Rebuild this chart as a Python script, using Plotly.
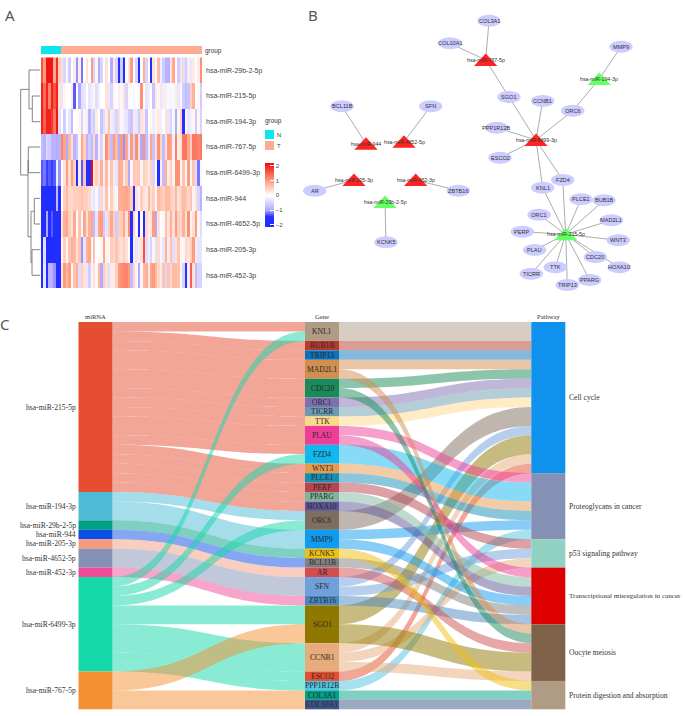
import plotly.graph_objects as go

W, H = 685, 716

# ---------- Panel A: heatmap ----------
rows = ["hsa-miR-29b-2-5p", "hsa-miR-215-5p", "hsa-miR-194-3p", "hsa-miR-767-5p", "hsa-miR-6499-3p",
        "hsa-miR-944", "hsa-miR-4652-5p", "hsa-miR-205-3p", "hsa-miR-452-3p"]
r_29b = [1.6,1.0,2.1,2.1,2.1,0.9,1.9,0.5,
         .3,-.5,.1,-.6,0,.2,-1.1,.2,-1.2,0,.3,0,1,-.5,.1,-1,-.5,0,.3,0,-1,.2,-.5,-1.5,
         -.6,-1.6,0,.3,1,0,-.5,-1.5,0,.8,-.5,0,-1.8,.3,0,.7,-.2,-.6,-.9,-.9,.3,.9,0,-.6,.3,-.4,-.6,.2,-.3,.2,0,.2,1.1]
r_215 = [2.0,1.4,2.0,1.2,2.0,1.6,2.0,0.3,
         -.3,.1,0,0,.2,-1.3,0,-1,-.4,-.3,0,-.3,-.2,.1,-.4,-.2,0,0,.3,-.3,-.5,.1,0,-.2,
         .1,.3,-.5,.1,0,-.1,0,-.1,1.1,0,-.3,-.2,0,-.7,.2,.1,-.3,.2,-.2,-.1,-.1,-.1,.2,-.3,-.1,-.6,-.8,-.7,.5,.8,0,.1,-.6]
r_194 = [2.0,1.5,2.0,2.0,1.8,1.3,2.1,-0.4,
         0,-.6,0,-.3,-.8,0,0,.1,-.5,.1,-.2,-.9,-.4,-.6,.2,0,-.7,-.4,.2,.6,-.2,-.3,-.5,.3,
         -.1,-.2,-.3,-.6,-.7,.2,-.3,-.6,.3,.2,-.7,0,.1,-.2,.1,.2,-.2,0,.3,-.3,-.5,-.1,-1,.1,.5,-1.5,.1,-.3,-.2,.1,-.6,.1,-.5]
r_767 = [-.8,-.9,-.5,-.6,-.9,-.9,-1.0,-.9,
         1.2,.9,-1,.7,.3,-.9,-.7,.1,.9,.5,-.9,-.6,-.8,.4,-.9,.2,-.5,.1,1.1,.6,-.8,1,.7,-1,
         1,-1.1,.9,-.3,1,-.5,1.1,.3,-1,1.1,-.8,-.2,.9,-.7,.3,1.1,.4,-.8,.3,1,.9,-.2,1.2,.2,.3,1.3,1.3,.9,.5,1.3,1.3,1.2,1.3]
r_6499 = [-1.3,-1.2,-1.4,-1.3,-1.4,-1.3,-0.2,-1.1,
          0,.3,1,.3,1,.5,-1.5,.2,-1.3,.6,-1.7,-1.9,2.2,.2,.5,.3,.8,-.2,.7,.1,.6,.2,-.3,.8,
          .8,.2,.5,-1,.1,.6,.5,.6,.1,.5,.4,.2,.5,-.5,.1,-1.9,.2,-.8,.8,.2,.5,.1,1.1,1.1,.1,.6,.1,1,.1,.6,-.4,-1.2,-.1]
r_944 = [-2,-1.9,-2.1,-2.1,-2.1,-2.1,-.8,-1.9,
         0,.5,.7,.4,.4,.5,.5,.5,.6,.5,.5,.4,-.2,-.3,-.1,-.4,.4,-.2,.6,.1,.5,.2,-.1,.8,
         .8,.9,.9,.8,.5,-2,.3,.1,.5,.3,.2,.7,.3,.5,.1,.7,.6,.5,.7,.7,.5,.4,.7,.3,.5,.7,.6,.4,.6,.1,.3,-.5,-.9]
r_4652 = [-2,-1.9,-1,-2,-1.3,-2,-2,-2,
          .3,.8,.9,.5,.3,.9,0,.6,.1,.9,.3,.8,.9,-.8,-.3,.9,1,-.6,-.3,.5,.9,.5,-.6,.5,
          .5,.9,.3,1.1,-1.5,.4,.1,-1.9,.1,-1.9,.4,.2,.3,1,-1,.3,0,.1,.6,.3,.8,.3,1,.5,.4,.8,.3,1.1,.1,.3,1,.1,-.4]
r_205 = [-2,-.4,-2.1,-2.1,-2.1,-2.1,-1.9,-2,
         .1,.5,.1,.6,.8,.7,.3,.6,-1.1,-.3,.8,.9,.1,.6,0,0,.1,.9,.1,.1,.5,.4,.6,.4,
         .3,.5,.3,0,-2.2,.2,-.3,.2,.3,1.6,-.4,-.2,-.5,.1,-.4,.4,.1,-.3,.8,.2,.6,-.4,.3,.6,.1,.1,.4,.3,.5,1,-.2,-.3,-.3]
r_452 = [-1.9,-.3,-1.7,-.9,-.9,-1.1,-2,-1.6,
         .3,1,.7,1,.1,.6,.8,-.4,.5,.3,-.3,-.6,.1,.3,.1,.7,-1,.5,.3,-.4,.2,.2,.5,1,
         1.1,1.2,1.2,1,-.8,.4,.1,-1,.1,.7,.8,.2,.9,1,.7,.4,.2,.6,-.5,.6,.4,.7,.7,.6,.1,-.5,-1.5,-.2,1.5,.3,-.8,-.5,-.5]
group_n, group_t = 8, 57
group_values = [0] * group_n + [1] * group_t
group_names = ["N", "T"]
group_colors = ["#0CE6F0", "#FFAB94"]
heat_ticks = [-2, -1, 0, 1, 2]

# dendrogram branches, each a polyline (left-to-right tree drawn in page pixels)
dendro_branches = [
    ([40.3, 32.3, 32.3, 40.3], [121.7, 121.7, 96, 96]),      # 194 / 215
    ([40.3, 29, 29, 32.3], [70, 70, 108.8, 108.8]),          # 29b / (215,194)
    ([40.3, 28.3, 28.3, 40.3], [147, 147, 172.7, 172.7]),    # 767 / 6499
    ([40.3, 34.3, 34.3, 40.3], [198.3, 198.3, 224, 224]),    # 944 / 4652
    ([40.3, 32, 32, 40.3], [249.7, 249.7, 275.3, 275.3]),    # 205 / 452
    ([34.3, 31, 31, 32], [211.2, 211.2, 262.5, 262.5]),      # two lower pairs
    ([31, 28, 28, 28.3], [236.8, 236.8, 160, 160]),          # lower + 767/6499
    ([29, 20.7, 20.7, 28], [89.4, 89.4, 175, 175]),          # root
]

# ---------- Panel B: network ----------
mirna_nodes = {
    "hsa-miR-767-5p": (485.7, 60.0, "up"), "hsa-miR-194-3p": (599.3, 79.0, "down"),
    "hsa-miR-6499-3p": (536.0, 140.0, "up"), "hsa-miR-215-5p": (565.7, 234.3, "down"),
    "hsa-miR-944": (366.0, 143.7, "up"), "hsa-miR-4652-5p": (404.0, 141.7, "up"),
    "hsa-miR-205-3p": (354.0, 180.0, "up"), "hsa-miR-452-3p": (415.7, 180.0, "up"),
    "hsa-miR-29b-2-5p": (385.0, 202.0, "down"),
}
gene_nodes = {
    "COL3A1": (489.0, 20.7), "COL10A1": (450.0, 43.3), "MMP9": (621.0, 46.7), "SGO1": (509.0, 97.0),
    "CCNB1": (542.7, 101.0), "ORC6": (572.7, 110.7), "PPP1R12B": (496.7, 127.7), "ESCO2": (500.0, 157.7),
    "FZD4": (562.7, 180.0), "KNL1": (542.7, 187.7), "PLCE1": (581.0, 199.3), "BUB1B": (604.0, 200.3),
    "ORC1": (539.0, 214.7), "MAD2L1": (611.3, 220.3), "PERP": (522.3, 231.7), "WNT3": (618.3, 240.3),
    "PLAU": (534.7, 250.0), "CDC20": (595.3, 257.0), "HOXA10": (619.3, 267.3), "TTK": (555.3, 267.3),
    "TICRR": (531.3, 273.7), "PPARG": (589.7, 280.0), "TRIP13": (567.3, 285.0), "BCL11B": (342.0, 106.3),
    "SFN": (430.7, 106.3), "AR": (314.7, 190.7), "ZBTB16": (458.3, 190.7), "KCNK5": (386.0, 242.3),
}
mirna_up_color, mirna_down_color, gene_color = "#FF2424", "#66FF66", "#CCCCFF"

# ---------- Panel C: sankey ----------
mirnas = ["hsa-miR-215-5p", "hsa-miR-194-3p", "hsa-miR-29b-2-5p", "hsa-miR-944", "hsa-miR-205-3p",
          "hsa-miR-4652-5p", "hsa-miR-452-3p", "hsa-miR-6499-3p", "hsa-miR-767-5p"]
mirna_colors = ["#E64E31", "#4DBBD5", "#00A087", "#0E4EE8", "#F39B7F", "#8491B4", "#EF4B98", "#14D8A8", "#F58F33"]
genes = ["KNL1", "BUB1B", "TRIP13", "MAD2L1", "CDC20", "ORC1", "TICRR", "TTK", "PLAU", "FZD4", "WNT3", "PLCE1",
         "PERP", "PPARG", "HOXA10", "ORC6", "MMP9", "KCNK5", "BCL11B", "AR", "SFN", "ZBTB16", "SGO1", "CCNB1",
         "ESCO2", "PPP1R12B", "COL3A1", "COL10A1"]
gene_colors = ["#B09C85", "#B83A2E", "#0A72BB", "#D28E4F", "#1B8A5A", "#7E6FB0", "#6C9BB0", "#FFD98A", "#EE3F98",
               "#10B8EE", "#E89A4F", "#1590B5", "#B8444F", "#7FB59E", "#5E5597", "#7E6E5F", "#109BF0", "#F0C010",
               "#808080", "#D04F4F", "#70A0DC", "#4A88C0", "#8F7700", "#E8AB7C", "#E64E31", "#50C4E0", "#00A087",
               "#3C5488"]
pathways = ["Cell cycle", "Proteoglycans in cancer", "p53 signaling pathway",
            "Transcriptional misregulation in cancer", "Oocyte meiosis", "Protein digestion and absorption"]
pathway_colors = ["#0F91EE", "#8491B4", "#91D1C2", "#DC0000", "#7E6148", "#B09C85"]

mirna_gene = [
    ("hsa-miR-215-5p", "KNL1", 1), ("hsa-miR-215-5p", "BUB1B", 1), ("hsa-miR-215-5p", "TRIP13", 1),
    ("hsa-miR-215-5p", "MAD2L1", 2), ("hsa-miR-215-5p", "CDC20", 2), ("hsa-miR-215-5p", "ORC1", 1),
    ("hsa-miR-215-5p", "TICRR", 1), ("hsa-miR-215-5p", "TTK", 1), ("hsa-miR-215-5p", "PLAU", 2),
    ("hsa-miR-215-5p", "FZD4", 1), ("hsa-miR-215-5p", "WNT3", 1), ("hsa-miR-215-5p", "PLCE1", 1),
    ("hsa-miR-215-5p", "PERP", 1), ("hsa-miR-215-5p", "PPARG", 1), ("hsa-miR-215-5p", "HOXA10", 1),
    ("hsa-miR-194-3p", "ORC6", 1), ("hsa-miR-194-3p", "MMP9", 2), ("hsa-miR-29b-2-5p", "KCNK5", 1),
    ("hsa-miR-944", "BCL11B", 1), ("hsa-miR-205-3p", "AR", 1), ("hsa-miR-4652-5p", "SFN", 2),
    ("hsa-miR-452-3p", "ZBTB16", 1), ("hsa-miR-6499-3p", "KNL1", 1), ("hsa-miR-6499-3p", "FZD4", 1),
    ("hsa-miR-6499-3p", "ORC6", 1), ("hsa-miR-6499-3p", "SGO1", 2), ("hsa-miR-6499-3p", "CCNB1", 3),
    ("hsa-miR-6499-3p", "ESCO2", 1), ("hsa-miR-6499-3p", "PPP1R12B", 1), ("hsa-miR-767-5p", "SGO1", 2),
    ("hsa-miR-767-5p", "COL3A1", 1), ("hsa-miR-767-5p", "COL10A1", 1),
]
gene_pathway = [
    ("KNL1", "Cell cycle", 2), ("BUB1B", "Cell cycle", 1), ("TRIP13", "Cell cycle", 1), ("MAD2L1", "Cell cycle", 1),
    ("CDC20", "Cell cycle", 1), ("ORC1", "Cell cycle", 1), ("TICRR", "Cell cycle", 1), ("TTK", "Cell cycle", 1),
    ("ORC6", "Cell cycle", 2), ("SFN", "Cell cycle", 1), ("SGO1", "Cell cycle", 2), ("CCNB1", "Cell cycle", 1),
    ("ESCO2", "Cell cycle", 1),
    ("PLAU", "Proteoglycans in cancer", 1), ("FZD4", "Proteoglycans in cancer", 2), ("WNT3", "Proteoglycans in cancer", 1),
    ("PLCE1", "Proteoglycans in cancer", 1), ("MMP9", "Proteoglycans in cancer", 1), ("PPP1R12B", "Proteoglycans in cancer", 1),
    ("PERP", "p53 signaling pathway", 1), ("SFN", "p53 signaling pathway", 1), ("CCNB1", "p53 signaling pathway", 1),
    ("PLAU", "Transcriptional misregulation in cancer", 1), ("PPARG", "Transcriptional misregulation in cancer", 1),
    ("HOXA10", "Transcriptional misregulation in cancer", 1), ("MMP9", "Transcriptional misregulation in cancer", 1),
    ("BCL11B", "Transcriptional misregulation in cancer", 1), ("ZBTB16", "Transcriptional misregulation in cancer", 1),
    ("MAD2L1", "Oocyte meiosis", 1), ("CDC20", "Oocyte meiosis", 1), ("AR", "Oocyte meiosis", 1), ("SGO1", "Oocyte meiosis", 2),
    ("CCNB1", "Oocyte meiosis", 1),
    ("KCNK5", "Protein digestion and absorption", 1), ("COL3A1", "Protein digestion and absorption", 1),
    ("COL10A1", "Protein digestion and absorption", 1),
]

# ---------- helpers ----------
def px(v): return v / W
def py(v): return 1 - v / H
def rgba(c, a): return f"rgba({int(c[1:3],16)},{int(c[3:5],16)},{int(c[5:7],16)},{a})"

fig = go.Figure()
overlay = dict(xaxis="x3", yaxis="y3")

# heatmap
hm = [r_29b, r_215, r_194, r_767, r_6499, r_944, r_4652, r_205, r_452]
fig.add_trace(go.Heatmap(
    z=hm, y=rows, xgap=0, ygap=0, zmin=-2.15, zmax=2.2,
    colorscale=[[0, "#1F2DFF"], [0.16, "#2430FF"], [0.26, "#B0A8FF"], [0.494, "#FFFFFF"], [0.72, "#FF9E80"], [1, "#F00A0A"]],
    hoverinfo="skip",
    colorbar=dict(x=px(265), xanchor="left", y=py(195), yanchor="middle", len=64, lenmode="pixels", thickness=9,
                  thicknessmode="pixels", xpad=0, ypad=0, outlinewidth=0, tickvals=heat_ticks, ticks="inside",
                  ticklen=4, tickcolor="white", tickfont=dict(size=6, color="#444", family="Liberation Sans")),
))
fig.add_trace(go.Heatmap(z=[group_values], y=["group"], xaxis="x2", yaxis="y2", showscale=False, zmin=0, zmax=1,
                         colorscale=[[0, group_colors[0]], [1, group_colors[1]]], hoverinfo="skip"))

# dendrogram
dx, dy = [], []
for bx, by in dendro_branches:
    dx += bx + [None]
    dy += by + [None]
fig.add_trace(go.Scatter(x=dx, y=dy, mode="lines", line=dict(color="#666", width=0.8), hoverinfo="skip",
                         showlegend=False, **overlay))

# group legend swatches
fig.add_trace(go.Scatter(x=[269.5, 269.5], y=[134.5, 145.5], mode="markers", hoverinfo="skip", showlegend=False,
                         marker=dict(symbol="square", size=9, color=group_colors, line=dict(width=0)), **overlay))

# network edges
ex, ey = [], []
all_nodes = {**{k: v[:2] for k, v in mirna_nodes.items()}, **gene_nodes}
for m, g, _ in mirna_gene:
    ex += [all_nodes[m][0], all_nodes[g][0], None]
    ey += [all_nodes[m][1], all_nodes[g][1], None]
fig.add_trace(go.Scatter(x=ex, y=ey, mode="lines", line=dict(color="#ADADAD", width=1), hoverinfo="skip",
                         showlegend=False, **overlay))

shapes, annos = [], []
def text(x, y, s, size=7, color="#333", family="Liberation Sans", anchor="center"):
    annos.append(dict(x=px(x), y=py(y), xref="paper", yref="paper", text=s, showarrow=False, xanchor=anchor,
                      yanchor="middle", font=dict(size=size, color=color, family=family), borderpad=0, borderwidth=0))

EW, EH = 11.7, 6
for g, (x, y) in gene_nodes.items():
    shapes.append(dict(type="circle", xref="x3", yref="y3", x0=x - EW, x1=x + EW, y0=y - EH, y1=y + EH,
                       fillcolor=gene_color, line=dict(width=0), layer="above"))
    text(x, y, g, size=5.6)
TW, TU, TD = 11.7, 6.5, 6
for m, (x, y, kind) in mirna_nodes.items():
    col = mirna_up_color if kind == "up" else mirna_down_color
    shapes.append(dict(type="path", xref="x3", yref="y3", line=dict(width=0), layer="above", fillcolor=col,
                       path=f"M {x - TW} {y + TD} L {x} {y - TU} L {x + TW} {y + TD} Z"))
    text(x, y, m, size=5.3)

# sankey
node_idx = {"m": {n: i for i, n in enumerate(mirnas)},
            "g": {n: i + len(mirnas) for i, n in enumerate(genes)},
            "p": {n: i + len(mirnas) + len(genes) for i, n in enumerate(pathways)}}
colors = mirna_colors + gene_colors + pathway_colors
src, tgt, val, lcol = [], [], [], []
for m, g, v in mirna_gene:
    src.append(node_idx["m"][m]); tgt.append(node_idx["g"][g]); val.append(v); lcol.append(rgba(mirna_colors[mirnas.index(m)], 0.5))
for g, p, v in gene_pathway:
    src.append(node_idx["g"][g]); tgt.append(node_idx["p"][p]); val.append(v); lcol.append(rgba(gene_colors[genes.index(g)], 0.5))

SX0, SX1, SY0, SY1, TH = 78.5, 565.3, 322.0, 709.3, 34.0
COLX = [SX0 + TH / 2, 322.0, SX1 - TH / 2]
tot = sum(val[:len(mirna_gene)])
unit = (SY1 - SY0) / tot

node_x, node_y, label_y = [], [], {}
for key, lst, cx in [("m", mirnas, COLX[0]), ("g", genes, COLX[1]), ("p", pathways, COLX[2])]:
    cum = 0
    for n in lst:
        if key == "m":
            v = sum(x[2] for x in mirna_gene if x[0] == n)
        elif key == "g":
            v = sum(x[2] for x in mirna_gene if x[1] == n)
        else:
            v = sum(x[2] for x in gene_pathway if x[1] == n)
        node_x.append((cx - SX0) / (SX1 - SX0))
        node_y.append((cum + v / 2) / tot)
        label_y[(key, n)] = SY0 + (cum + v / 2) * unit
        cum += v

fig.add_trace(go.Sankey(
    arrangement="fixed", domain=dict(x=[px(SX0), px(SX1)], y=[py(SY1), py(SY0)]), orientation="h",
    node=dict(pad=0, thickness=TH, x=node_x, y=node_y, color=colors, line=dict(width=0), hoverinfo="skip",
              label=[""] * len(colors)),
    link=dict(source=src, target=tgt, value=val, color=lcol, hoverinfo="skip"),
))

SERIF = "Liberation Serif"
for n in mirnas:
    text(75.5, label_y[("m", n)], n, size=7.6, family=SERIF, anchor="right")
for n in genes:
    text(322, label_y[("g", n)], n, size=7.6, family=SERIF, color="#2a2a2a")
for n in pathways:
    text(568.7, label_y[("p", n)], n, size=7.1 if len(n) > 35 else 7.6, family=SERIF, anchor="left")
text(95.5, 316.5, "miRNA", size=6.6, family=SERIF)
text(322, 316.5, "Gene", size=6.6, family=SERIF)
text(548.5, 316.5, "Pathway", size=6.6, family=SERIF)

# panel text
text(205, 51, "group", size=6.4, anchor="left")
text(265, 121.5, "group", size=6.4, anchor="left")
text(276.5, 134.5, group_names[0], size=5.8, anchor="left")
text(276.5, 145.5, group_names[1], size=5.8, anchor="left")
for s, x, y in [("A", 10, 15), ("B", 313, 15), ("C", 5, 324)]:
    text(x, y, s, size=15, color="#555", family="Noto Sans")

hidden = dict(visible=False, fixedrange=True)
fig.update_layout(
    width=W, height=H, margin=dict(l=0, r=0, t=0, b=0), paper_bgcolor="white", plot_bgcolor="rgba(0,0,0,0)",
    showlegend=False, shapes=shapes, annotations=annos,
    xaxis=dict(domain=[px(41), px(202)], visible=False, fixedrange=True, anchor="y"),
    yaxis=dict(domain=[py(288), py(57.3)], autorange="reversed", side="right", showline=False, showgrid=False,
               ticks="", zeroline=False, fixedrange=True, anchor="x", ticklabelstandoff=3,
               tickfont=dict(size=7, color="#444", family="Liberation Sans")),
    xaxis2=dict(domain=[px(41), px(202)], anchor="y2", **hidden),
    yaxis2=dict(domain=[py(54.3), py(46)], anchor="x2", **hidden),
    xaxis3=dict(domain=[0, 1], range=[0, W], anchor="y3", **hidden),
    yaxis3=dict(domain=[0, 1], range=[H, 0], anchor="x3", **hidden),
)
fig.write_html("out.html", config={"displayModeBar": False},
               post_script="document.body.style.margin='0';document.body.style.overflow='hidden';")
